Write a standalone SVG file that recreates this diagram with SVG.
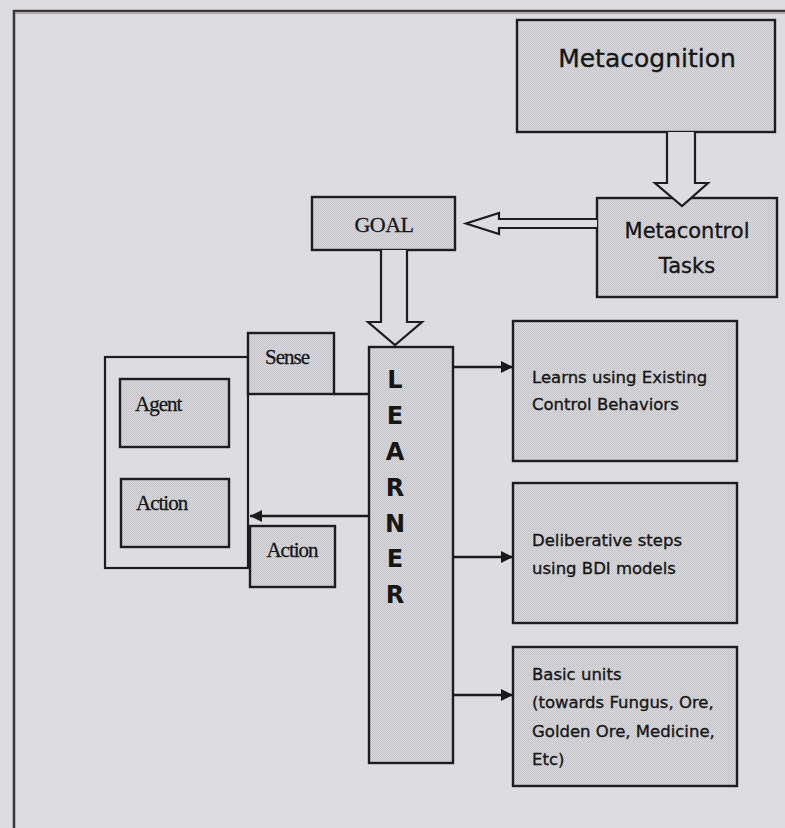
<svg xmlns="http://www.w3.org/2000/svg" width="785" height="828" viewBox="0 0 785 828">
  <defs>
    <!-- fine stipple used as the fill of every box -->
    <pattern id="stipple" width="2" height="2" patternUnits="userSpaceOnUse">
      <rect width="2" height="2" fill="#d9d9dd"/>
      <rect x="0" y="0" width="1" height="1" fill="#c2c2c6"/>
      <rect x="1" y="1" width="1" height="1" fill="#c9c9cd"/>
    </pattern>
    <marker id="head" viewBox="0 0 12 12" refX="12" refY="6" markerWidth="12" markerHeight="12" markerUnits="userSpaceOnUse" orient="auto">
      <path d="M0,0 L12,6 L0,12 Z" fill="#1a1a1a"/>
    </marker>
  </defs>
  <style>
    .box { fill: url(#stipple); stroke: #1d1d1f; stroke-width: 2.4; }
    .frame { fill: none; stroke: #1d1d1f; stroke-width: 2.2; }
    .hollow { fill: #dddde1; stroke: #1d1d1f; stroke-width: 2.2; stroke-linejoin: miter; }
    .link { fill: none; stroke: #1a1a1a; stroke-width: 2.4; }
    .hand { font-family: "DejaVu Sans", "Noto Sans", sans-serif; fill: #161616; stroke: #161616; stroke-width: 0.35; }
    .serif { font-family: "Liberation Serif", "DejaVu Serif", serif; fill: #161616; stroke: #161616; stroke-width: 0.3; }
    .col { font-family: "DejaVu Sans", "Noto Sans", sans-serif; font-weight: bold; font-size: 24px; fill: #161616; text-anchor: middle; }
  </style>

  <!-- page background -->
  <rect width="785" height="828" fill="#dddde1"/>

  <!-- outer page frame -->
  <g id="page-frame">
    <path d="M14,828 V11 H785" fill="none" stroke="#38383a" stroke-width="2.5"/>
    <line x1="15" y1="13.5" x2="785" y2="13.5" stroke="#b3a79c" stroke-width="1"/>
  </g>

  <!-- nodes -->
  <g id="metacognition">
    <rect class="box" x="517" y="20" width="258" height="112"/>
    <text class="hand" x="647" y="67" font-size="25" text-anchor="middle">Metacognition</text>
  </g>

  <g id="metacontrol">
    <rect class="box" x="597" y="198" width="180" height="99"/>
    <text class="hand" x="687" y="238" font-size="21" text-anchor="middle">Metacontrol</text>
    <text class="hand" x="687" y="273" font-size="21" text-anchor="middle">Tasks</text>
  </g>

  <g id="goal">
    <rect class="box" x="312" y="197" width="143" height="53"/>
    <text class="serif" x="384" y="232" font-size="22" letter-spacing="-0.5" text-anchor="middle">GOAL</text>
  </g>

  <g id="agent-frame">
    <rect class="frame" x="105" y="357" width="143" height="211"/>
  </g>

  <g id="agent">
    <rect class="box" x="120" y="379" width="109" height="68"/>
    <text class="serif" x="135" y="411" font-size="21" letter-spacing="-1">Agent</text>
  </g>

  <g id="agent-action">
    <rect class="box" x="121" y="479" width="108" height="68"/>
    <text class="serif" x="136" y="510" font-size="21" letter-spacing="-1">Action</text>
  </g>

  <g id="sense">
    <rect class="box" x="248" y="333" width="86" height="61"/>
    <text class="serif" x="287" y="364" font-size="21" letter-spacing="-1" text-anchor="middle">Sense</text>
  </g>

  <g id="action">
    <rect class="box" x="250" y="526" width="85" height="61"/>
    <text class="serif" x="292" y="557" font-size="21" letter-spacing="-1" text-anchor="middle">Action</text>
  </g>

  <g id="learner">
    <rect class="box" x="369" y="347" width="84" height="416"/>
    <text class="col" x="395" y="388">L</text>
    <text class="col" x="395" y="424">E</text>
    <text class="col" x="395" y="460">A</text>
    <text class="col" x="395" y="496">R</text>
    <text class="col" x="395" y="532">N</text>
    <text class="col" x="395" y="567">E</text>
    <text class="col" x="395" y="603">R</text>
  </g>

  <g id="existing-behaviors">
    <rect class="box" x="513" y="321" width="224" height="140"/>
    <text class="hand" x="532" y="383" font-size="16.5">Learns using Existing</text>
    <text class="hand" x="532" y="410" font-size="16.5">Control Behaviors</text>
  </g>

  <g id="deliberative">
    <rect class="box" x="513" y="483" width="224" height="140"/>
    <text class="hand" x="532" y="546" font-size="16.5">Deliberative steps</text>
    <text class="hand" x="532" y="574" font-size="16.5">using BDI models</text>
  </g>

  <g id="basic-units">
    <rect class="box" x="513" y="647" width="224" height="139"/>
    <text class="hand" x="532" y="680" font-size="16.5">Basic units</text>
    <text class="hand" x="532" y="708" font-size="16.5">(towards Fungus, Ore,</text>
    <text class="hand" x="532" y="737" font-size="16.5">Golden Ore, Medicine,</text>
    <text class="hand" x="532" y="765" font-size="16.5">Etc)</text>
  </g>

  <!-- connectors -->
  <g id="connectors">
    <!-- block arrows -->
    <path class="hollow" d="M667,132 V183 H655 L682,206 L708,183 H695 V132"/>
    <path class="hollow" d="M597,219 H499 V213 L466,223.5 L499,234 V228 H597"/>
    <path class="hollow" d="M381,250 V322 H368 L395,345 L422,322 H407 V250"/>
    <!-- sense line into the learner -->
    <line class="link" x1="334" y1="394" x2="369" y2="394"/>
    <!-- learner back to the agent -->
    <line class="link" x1="369" y1="516" x2="250" y2="516" marker-end="url(#head)"/>
    <!-- learner out to the three behaviour levels -->
    <line class="link" x1="453" y1="367" x2="513" y2="367" marker-end="url(#head)"/>
    <line class="link" x1="453" y1="557" x2="513" y2="557" marker-end="url(#head)"/>
    <line class="link" x1="453" y1="695" x2="513" y2="695" marker-end="url(#head)"/>
  </g>
</svg>
